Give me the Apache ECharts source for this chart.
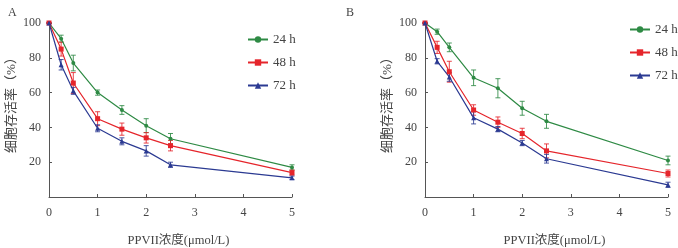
<!DOCTYPE html>
<html><head><meta charset="utf-8">
<script src="https://cdn.jsdelivr.net/npm/echarts@6/dist/echarts.min.js"></script>
<style>html,body{margin:0;padding:0;background:#fff}#c{width:678px;height:248px}</style>
</head><body><div id="c"></div>
<script>
var concentrations = [0, 0.25, 0.5, 1, 1.5, 2, 2.5, 5];
var xTicks = [0, 1, 2, 3, 4, 5];
var yTicks = [20, 40, 60, 80, 100];
var seriesNames = ['24 h', '48 h', '72 h'];
var panelLabels = ['A', 'B'];
// Panel A
var A24 = [100, 91, 77, 60, 50, 41, 33.5, 17];
var A24err = [0, 2, 4.5, 1.5, 2.5, 4, 3, 1.5];
var A48 = [100, 85, 65.5, 45, 39, 34, 29.5, 14];
var A48err = [0, 4, 6, 4, 3.5, 3, 3, 1.5];
var A72 = [100, 76, 61, 39.5, 32, 26.5, 18.5, 11];
var A72err = [0, 3, 2, 2, 2, 3, 1.5, 1];
// Panel B
var B24 = [100, 95, 86, 68.5, 62.5, 51, 43.5, 21];
var B24err = [0, 1.5, 2.5, 4.5, 5.5, 4, 4, 2.5];
var B48 = [100, 86, 72, 50, 43, 36.5, 26.5, 13.5];
var B48err = [0, 3.5, 6, 3, 3, 3, 4, 2];
var B72 = [100, 78, 69, 45.5, 39, 31, 22, 7];
var B72err = [0, 1.5, 2.5, 3.5, 1.5, 1.5, 2.5, 1.5];

var colors = ['#2e8a44', '#e5252b', '#2b3a92'];
var symbols = ['circle', 'rect', 'triangle'];
var symbolSizes = [4, 5, 5];
var FONT = '"Liberation Serif", "Noto Sans CJK SC", serif';
var TXT = '#444';

var chart = echarts.init(document.getElementById('c'));
var panels = [[A24, A48, A72], [B24, B48, B72]];
var errs = [[A24err, A48err, A72err], [B24err, B48err, B72err]];
var grids = [
  {left: 49, top: 23, width: 243, height: 174, outerBoundsMode: 'none', containLabel: false},
  {left: 425, top: 23, width: 243, height: 174, outerBoundsMode: 'none', containLabel: false}
];
var xAxes = [], yAxes = [], series = [], legends = [];
var legendPos = [{left: 247, top: 33}, {left: 629, top: 23}];
panels.forEach(function (p, pi) {
  xAxes.push({
    type: 'value', gridIndex: pi, min: 0, max: 5, interval: 1,
    name: 'PPVII浓度(μmol/L)', nameLocation: 'middle', nameGap: 37,
    nameTextStyle: {fontFamily: FONT, fontSize: 12.5, color: TXT, padding: [0, 0, 0, 16]},
    axisLine: {lineStyle: {color: '#555', width: 1}},
    axisTick: {inside: true, length: 3, lineStyle: {color: '#555'}},
    axisLabel: {fontFamily: FONT, fontSize: 12, color: TXT, margin: 10},
    splitLine: {show: false}
  });
  yAxes.push({
    type: 'value', gridIndex: pi, min: 0, max: 100, interval: 20,
    name: '细胞存活率（%）', nameLocation: 'middle', nameGap: 31, nameRotate: 90,
    nameTextStyle: {fontFamily: FONT, fontSize: 13, color: TXT, padding: [0, 0, 0, 16]},
    axisLine: {show: true, lineStyle: {color: '#555', width: 1}},
    axisTick: {inside: true, length: 3, lineStyle: {color: '#555'}},
    axisLabel: {fontFamily: FONT, fontSize: 12, color: TXT, margin: 8,
      formatter: function (v) { return yTicks.indexOf(v) >= 0 ? String(v) : ''; }},
    splitLine: {show: false}
  });
  p.forEach(function (vals, si) {
    series.push({
      type: 'line', name: seriesNames[si], xAxisIndex: pi, yAxisIndex: pi,
      data: concentrations.map(function (x, i) { return [x, vals[i]]; }),
      symbol: symbols[si], symbolSize: symbolSizes[si], showSymbol: true,
      lineStyle: {color: colors[si], width: 1.2},
      itemStyle: {color: colors[si]}, z: 3
    });
    series.push({
      type: 'custom', xAxisIndex: pi, yAxisIndex: pi, silent: true, z: 2,
      data: concentrations.map(function (x, i) { return [x, vals[i] - errs[pi][si][i], vals[i] + errs[pi][si][i]]; }),
      renderItem: function (params, api) {
        var lo = api.coord([api.value(0), api.value(1)]);
        var hi = api.coord([api.value(0), api.value(2)]);
        var w = 2.5;
        var st = {stroke: colors[si], lineWidth: 1, opacity: 0.85};
        return {type: 'group', children: [
          {type: 'line', shape: {x1: lo[0], y1: lo[1], x2: hi[0], y2: hi[1]}, style: st},
          {type: 'line', shape: {x1: lo[0] - w, y1: lo[1], x2: lo[0] + w, y2: lo[1]}, style: st},
          {type: 'line', shape: {x1: hi[0] - w, y1: hi[1], x2: hi[0] + w, y2: hi[1]}, style: st}
        ]};
      }
    });
  });
  legends.push({
    orient: 'vertical', left: legendPos[pi].left, top: legendPos[pi].top, padding: 0,
    data: seriesNames, itemWidth: 20, itemHeight: 8, itemGap: 10,
    textStyle: {fontFamily: FONT, fontSize: 13, color: TXT},
    selectedMode: false
  });
});

chart.setOption({
  animation: false,
  color: colors,
  title: panelLabels.map(function (t, i) {
    return {text: t, left: i === 0 ? 3 : 341, top: 2,
      textStyle: {fontFamily: FONT, fontSize: 12, fontWeight: 'normal', color: TXT}};
  }),
  legend: legends,
  grid: grids,
  xAxis: xAxes,
  yAxis: yAxes,
  series: series
});
</script></body></html>
